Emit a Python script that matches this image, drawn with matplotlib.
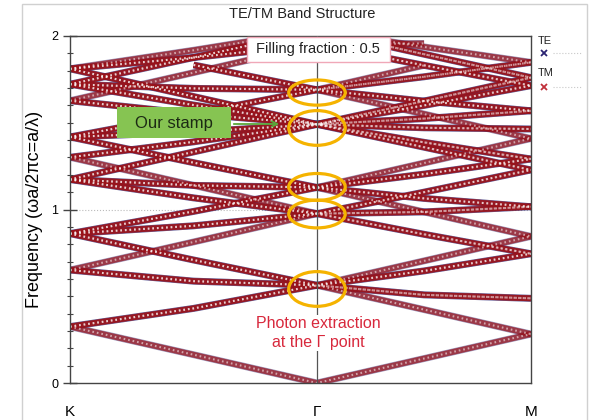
import numpy as np
import matplotlib
matplotlib.use('Agg')
import matplotlib.pyplot as plt
from matplotlib.patches import Ellipse, Rectangle
from matplotlib.lines import Line2D

plt.rcParams['font.family'] = ['Liberation Sans', 'DejaVu Sans']

nan = np.nan

# k-path positions: K, mid(K-G), Gamma, mid(G-M), M
k_pos = [0.0, 0.667, 1.333, 1.911, 2.488]
k_ticks = [0.0, 1.333, 2.488]
k_labels = ['K', 'Γ', 'M']

# band frequencies (a/lambda) read at the five k points, grouped by value at Gamma
bands_g000 = [
    [0.325, 0.163, 0.000, 0.141, 0.282],
]
bands_g056 = [
    [0.325, 0.430, 0.563, 0.423, 0.282],
    [0.861, 0.709, 0.563, 0.704, 0.845],
    [0.325, 0.430, 0.563, 0.508, 0.488],
    [0.651, 0.587, 0.563, 0.646, 0.745],
    [0.651, 0.587, 0.563, 0.508, 0.488],
    [0.861, 0.709, 0.563, 0.646, 0.745],
]
bands_g098 = [
    [0.861, 0.906, 0.976, 0.986, 1.016],
    [1.173, 1.067, 0.976, 0.986, 1.016],
    [0.651, 0.813, 0.976, 0.857, 0.745],
    [1.173, 1.067, 0.976, 1.100, 1.228],
    [0.861, 0.906, 0.976, 0.857, 0.745],
    [1.301, 1.139, 0.976, 1.100, 1.228],
]
bands_g113 = [
    [0.861, 0.989, 1.127, 0.986, 0.845],
    [1.418, 1.270, 1.127, 1.268, 1.409],
    [0.861, 0.989, 1.127, 1.064, 1.016],
    [1.173, 1.139, 1.127, 1.204, 1.291],
    [1.173, 1.139, 1.127, 1.064, 1.016],
    [1.418, 1.270, 1.127, 1.204, 1.291],
]
bands_g149 = [
    [1.173, 1.332, 1.491, 1.359, 1.228],
    [1.301, 1.390, 1.491, 1.359, 1.228],
    [1.722, 1.602, 1.491, 1.625, 1.760],
    [1.811, 1.651, 1.491, 1.625, 1.760],
    [1.301, 1.390, 1.491, 1.471, 1.464],
    [1.418, 1.446, 1.491, 1.524, 1.569],
    [1.627, 1.552, 1.491, 1.471, 1.464],
    [1.722, 1.602, 1.491, 1.524, 1.569],
    [1.173, 1.332, 1.491, 1.387, 1.291],
    [1.418, 1.446, 1.491, 1.387, 1.291],
    [1.627, 1.552, 1.491, 1.600, 1.714],
    [1.811, 1.651, 1.491, 1.600, 1.714],
]
bands_g169 = [
    [1.418, 1.552, 1.690, 1.550, 1.409],
    [nan, 1.833, 1.690, 1.831, nan],
    [1.418, 1.552, 1.690, 1.625, 1.569],
    [1.722, 1.698, 1.690, 1.765, 1.848],
    [1.722, 1.698, 1.690, 1.625, 1.569],
    [nan, 1.833, 1.690, 1.765, 1.848],
]
bands_g195 = [
    [1.811, 1.876, 1.952, 1.957, nan],
    [1.627, 1.789, 1.952, 1.831, 1.714],
    [1.811, 1.876, 1.952, 1.831, 1.714],
]
bands_g203 = [
    [1.722, 1.876, 2.032, 1.895, 1.760],
    [1.811, 1.918, 2.032, 1.895, 1.760],
    [1.722, 1.876, 2.032, 1.937, 1.848],
]

# highlighted regions at Gamma
circle_freq = [0.542, 0.974, 1.130, 1.470, 1.674]
circle_height = [0.20, 0.16, 0.155, 0.20, 0.145]

te_color = '#2b2472'
tm_color = '#9a1219'

fig = plt.figure(figsize=(5.94, 4.2), dpi=100)
W, H = 594, 420
ax = fig.add_axes([70 / W, 1 - 383 / H, 461 / W, 347 / H])

all_bands = bands_g000 + bands_g056 + bands_g098 + bands_g113 + bands_g149 + bands_g169 + bands_g195 + bands_g203
for row in all_bands:
    ax.plot(k_pos, row, color=te_color, lw=5.0, alpha=0.45, zorder=1, solid_capstyle='butt')
for row in all_bands:
    ax.plot(k_pos, row, color=tm_color, lw=4.2, alpha=0.72, zorder=2, solid_capstyle='butt')
for row in all_bands:
    ax.plot(k_pos, row, color='white', lw=1.5, alpha=0.55, ls=(0, (0.8, 1.4)), zorder=2.5)

ax.axhline(1, color='#bbbbbb', ls=':', lw=0.8, zorder=0)
ax.axvline(k_ticks[1], color='#555555', lw=0.9, zorder=3)

for f, h in zip(circle_freq, circle_height):
    ax.add_patch(Ellipse((k_ticks[1], f), width=0.305, height=h, fill=False,
                         ec='#f5b300', lw=2.3, zorder=4))

ax.set_xlim(0, k_ticks[-1])
ax.set_ylim(0, 2)
ax.set_xticks(k_ticks)
ax.set_xticklabels(k_labels, fontsize=11)
ax.tick_params(axis='x', length=0, pad=16)
ax.set_yticks([0, 1, 2])
ax.set_yticks(np.arange(0, 2.01, 0.1), minor=True)
ax.tick_params(axis='y', which='major', direction='inout', length=10, width=1, labelsize=9, color='#444444')
ax.tick_params(axis='y', which='minor', direction='inout', length=5, width=0.8, color='#444444')
for s in ax.spines.values():
    s.set_color('#444444')
    s.set_linewidth(1.0)
ax.set_ylabel('Frequency (ωa/2πc=a/λ)', fontsize=13, labelpad=6)

fig.text(302 / W, 1 - 14 / H, 'TE/TM Band Structure', fontsize=10.5, ha='center', va='center', color='#222222')

# filling fraction box
fig.add_artist(Rectangle((247 / W, 1 - 62 / H), 143 / W, 25 / H, transform=fig.transFigure,
                         fc='white', ec='#f0a8b8', lw=1, zorder=5))
fig.text(318 / W, 1 - 49 / H, 'Filling fraction : 0.5', fontsize=10.5, ha='center', va='center',
         color='#222222', zorder=6)

# our stamp label
fig.add_artist(Rectangle((117 / W, 1 - 138 / H), 114 / W, 31 / H, transform=fig.transFigure,
                         fc='#86c452', ec='none', zorder=5))
fig.text(174 / W, 1 - 123 / H, 'Our stamp', fontsize=12, ha='center', va='center', color='#1c2a14', zorder=6)
ax.annotate('', xy=(282, H - 124), xytext=(231, H - 124), xycoords='figure pixels',
            arrowprops=dict(arrowstyle='->', color='#5aa83a', lw=1.3), zorder=6)

fig.text(318 / W, 1 - 333 / H, 'Photon extraction\nat the Γ point', fontsize=11.5, ha='center', va='center',
         color='#d8283c', linespacing=1.3, zorder=6,
         bbox=dict(fc='white', ec='none', pad=1))

# legend
fig.text(538 / W, 1 - 41 / H, 'TE', fontsize=8, va='center', color='#222222')
fig.text(538 / W, 1 - 73 / H, 'TM', fontsize=8, va='center', color='#222222')
for yy, c in [(53, te_color), (87, '#c0303a')]:
    fig.add_artist(Line2D([544 / W], [1 - yy / H], marker='x', color=c, ms=5, mew=1.3,
                          transform=fig.transFigure))
    fig.add_artist(Line2D([553 / W, 582 / W], [1 - yy / H, 1 - yy / H], ls=':', color='#c8c8c8',
                          lw=0.8, transform=fig.transFigure))

# slide frame
fig.add_artist(Rectangle((22 / W, -0.02), 565 / W, 1.0 - 4 / H + 0.02, transform=fig.transFigure,
                         fill=False, ec='#d0d0d0', lw=1))

fig.savefig('out.png', dpi=100)
